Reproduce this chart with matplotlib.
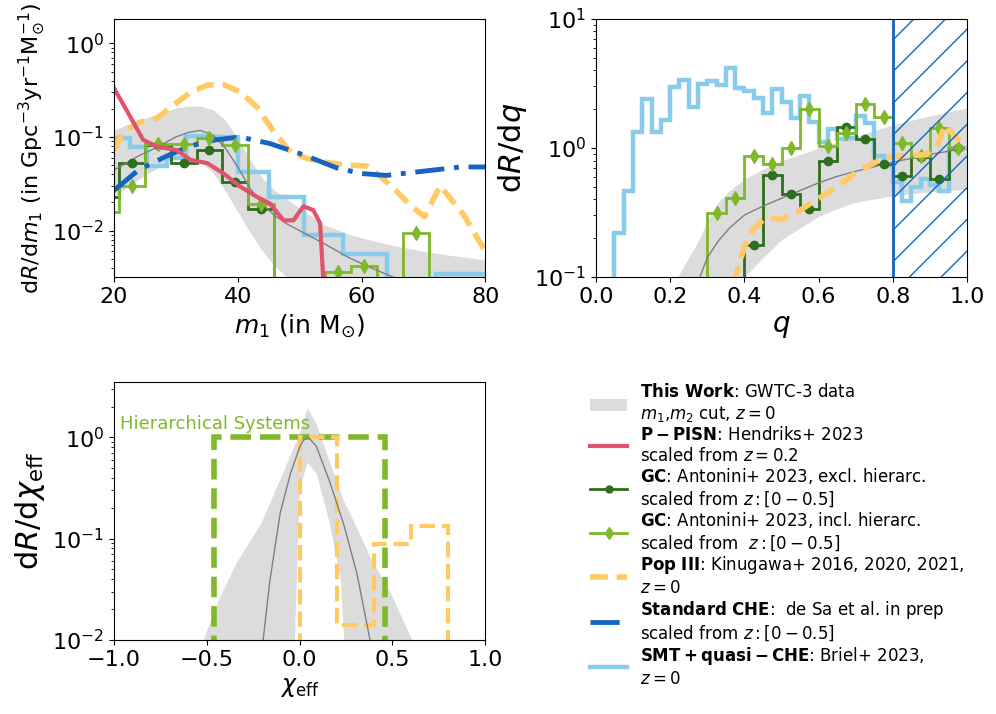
import numpy as np
import matplotlib
matplotlib.use('Agg')
import matplotlib.pyplot as plt
from matplotlib.lines import Line2D
from matplotlib.patches import Patch

# colours
c_band = '#dcdcdc'
c_median = '#808080'
c_pisn = '#e0536a'
c_gc_ex = '#2f6e1d'
c_gc_in = '#7fb82a'
c_pop3 = '#ffc966'
c_che = '#1565c0'
c_smt = '#88cbea'

# ---------------- primary mass panel (values as log10) ----------------
m1_grid = [20, 22, 24, 26, 28, 30, 32, 34, 36, 38, 40, 42, 44, 46, 48, 50, 54, 58, 62, 66, 70, 75, 80]
m1_band_hi_log = [-0.925, -0.87, -0.82, -0.78, -0.74, -0.69, -0.67, -0.67, -0.71, -0.82, -1.02, -1.24,
                  -1.44, -1.57, -1.67, -1.76, -1.94, -2.04, -2.11, -2.17, -2.22, -2.27, -2.31]
m1_band_lo_log = [-1.64, -1.54, -1.45, -1.37, -1.29, -1.23, -1.22, -1.27, -1.38, -1.58, -1.80, -2.02,
                  -2.22, -2.38, -2.5, -2.65, -3, -3, -3, -3, -3, -3, -3]
m1_median_log = [-1.35, -1.28, -1.2, -1.14, -1.07, -1.0, -0.95, -0.93, -0.98, -1.12, -1.32, -1.55,
                 -1.72, -1.84, -1.93, -2.0, -2.14, -2.29, -2.41, -2.52, -2.6, -2.7, -2.8]

m1_pisn = [20, 22, 24.7, 26.9, 30.1, 32.4, 35.1, 37.7, 40.4, 43.1, 45.2, 47.4, 49.0, 50.6, 52.2, 53.3, 53.8, 54.2]
pisn_log = [-0.48, -0.71, -1.03, -1.10, -1.14, -1.245, -1.28, -1.39, -1.53, -1.64, -1.71, -1.89, -1.89,
            -1.74, -1.78, -1.92, -2.5, -3.0]

m1_che = [20, 24, 28.3, 32.1, 36.4, 40.4, 45.2, 50.6, 56, 60, 64, 68, 72, 76, 80]
che_log = [-1.57, -1.35, -1.21, -1.10, -1.03, -1.0, -1.07, -1.19, -1.33, -1.39, -1.41, -1.38, -1.35, -1.32, -1.32]

m1_pop3 = [20, 21.5, 24.2, 26.9, 29.6, 32.4, 35.1, 37.7, 40.4, 43.1, 45.8, 48.5, 51.2, 55, 58, 61,
           64.6, 68.4, 70.2, 72.7, 76.5, 80]
pop3_log = [-1.14, -0.94, -0.84, -0.80, -0.66, -0.52, -0.445, -0.44, -0.52, -0.68, -0.94, -1.16, -1.23,
            -1.28, -1.30, -1.31, -1.51, -1.76, -1.85, -1.52, -1.83, -2.22]

m1_smt_edges = [20, 22.5, 25.3, 28.5, 31.7, 35.7, 40.1, 45.1, 50.7, 57.0, 64.1, 72.1, 81.0]
smt_m1_log = [-1.01, -1.11, -1.31, -1.22, -0.99, -1.0, -1.37, -1.64, -2.05, -2.25, -5, -2.46]

m1_gc_edges = [16.67, 20.83, 25, 29.17, 33.33, 37.5, 41.67, 45.83, 50, 54.17, 58.33, 62.5, 66.67, 70.83, 75]
gc_ex_m1_log = [-1.64, -1.28, -1.085, -1.28, -1.14, -1.48, -1.77, -5, -5, -5, -5, -5, -5, -5]
gc_in_m1_log = [-1.80, -1.52, -1.08, -1.075, -1.01, -1.09, -1.72, -5, -5, -2.44, -2.38, -5, -2.03, -5]

# ---------------- mass ratio panel ----------------
q_grid = [0.22, 0.25, 0.28, 0.30, 0.33, 0.36, 0.40, 0.45, 0.50, 0.55, 0.60, 0.65, 0.70, 0.80, 0.90, 1.0]
q_band_hi_log = [-1.0, -0.85, -0.7, -0.56, -0.42, -0.33, -0.24, -0.165, -0.10, -0.05, 0.0, 0.045,
                 0.09, 0.18, 0.25, 0.31]
q_band_lo_log = [-3, -3, -3, -3, -3, -3, -1.0, -0.85, -0.71, -0.62, -0.53, -0.47, -0.42, -0.37, -0.34, -0.32]
q_median_log = [-3, -3, -1.0, -0.85, -0.72, -0.62, -0.52, -0.45, -0.39, -0.33, -0.27, -0.22,
                -0.18, -0.11, -0.05, 0.0]

q_pop3 = [0.37, 0.40, 0.42, 0.45, 0.47, 0.50, 0.54, 0.59, 0.65, 0.70, 0.75, 0.775, 0.80, 0.85, 0.89,
          0.92, 0.94, 0.97, 1.0]
pop3_q_log = [-1.05, -0.77, -0.64, -0.56, -0.54, -0.555, -0.50, -0.41, -0.30, -0.19, -0.115, -0.08,
              -0.065, -0.06, -0.05, 0.02, 0.18, 0.08, 0.0]

q_smt_edges = [0.025] + [round(0.05 + 0.025 * k, 3) for k in range(39)]
smt_q_log = [-5, -0.656, -0.333, 0.124, 0.377, 0.124, 0.217, 0.476, 0.527, 0.32, 0.494, 0.517, 0.49,
             0.623, 0.468, 0.442, 0.39, 0.274, 0.46, 0.357, 0.235, 0.40, 0.20, 0.045, 0.15, 0.067,
             0.08, 0.248, 0.19, -0.062, -0.14, -0.26, -0.41, -0.30, -0.24, -0.29, -0.33, 0.0, 0.0]

q_gc_edges = [0.25, 0.3, 0.35, 0.4, 0.45, 0.5, 0.55, 0.6, 0.65, 0.7, 0.75, 0.8, 0.85, 0.9, 0.95, 1.0]
gc_ex_q_log = [-5, -5, -5, -0.754, -0.21, -0.359, -0.475, -0.10, 0.16, 0.067, -0.126, -0.217, -0.07,
               -0.243, 0.0]
gc_in_q_log = [-5, -0.5, -0.39, -0.062, -0.126, 0.003, 0.30, 0.016, 0.12, 0.344, 0.24, 0.042, -0.062,
               0.158, 0.003]

q_excluded = (0.8, 1.0)   # hatched region

# ---------------- effective spin panel ----------------
chi_grid = [-0.56, -0.5, -0.43, -0.34, -0.21, -0.09, -0.03, -0.01, 0.0, 0.04, 0.09, 0.16, 0.22, 0.24,
            0.27, 0.38, 0.49, 0.6, 0.63]
chi_band_hi_log = [-2.2, -1.9, -1.57, -1.23, -0.85, -0.34, -0.08, 0.0, 0.04, 0.29, 0.13, -0.24, -0.55,
                   -0.64, -0.75, -1.18, -1.54, -1.98, -2.2]
chi_band_lo_log = [-4, -4, -4, -4, -4, -4, -2.1, -0.9, -0.5, -0.245, -0.36, -0.85, -1.41, -2.1, -4,
                   -4, -4, -4, -4]
chi_med = [-0.2, -0.16, -0.105, -0.05, 0.0, 0.02, 0.047, 0.09, 0.16, 0.236, 0.308, 0.39]
chi_median_log = [-2.05, -1.41, -0.75, -0.36, -0.1, -0.03, 0.0, -0.09, -0.43, -0.85, -1.34, -2.1]

chi_hier_edges = [-0.6, -0.46, 0.46, 0.6]
hier_vals = [1e-5, 1.0, 1e-5]
chi_pop3_edges = [-0.1, 0.0, 0.2, 0.4, 0.6, 0.8, 0.9]
pop3_chi_vals = [1e-5, 1.0, 0.014, 0.0875, 0.133, 1e-5]


def p(v):
  return 10 ** np.asarray(v, dtype=float)


def centers(edges):
  e = np.asarray(edges)
  return 0.5 * (e[1:] + e[:-1])


def sparse_hatch(fig, ax, x0, x1, color, spacing_px=31.7, offset_px=21):
  """diagonal hatch lines between x0 and x1 (data x), drawn in axes coords"""
  fig.canvas.draw()
  bb = ax.get_window_extent()
  w_px, h_px = bb.width, bb.height
  xa0, xa1 = ax.transLimits.transform((x0, 1))[0], ax.transLimits.transform((x1, 1))[0]
  rise = (xa1 - xa0) * w_px / h_px
  step = spacing_px / h_px
  start = 1 - offset_px / h_px
  k = -int(rise / step) - 2
  while start - k * step + rise > -0.01 and k < 200:
    y0 = start - k * step
    ax.plot([xa0, xa1], [y0, y0 + rise], color=color, lw=1, transform=ax.transAxes)
    k += 1


fig = plt.figure(figsize=(9.96, 7.14), dpi=100)
fig.subplots_adjust(left=0.1145, right=0.971, top=0.9734, bottom=0.1036, wspace=0.298, hspace=0.407)
ax1 = fig.add_subplot(221)
ax2 = fig.add_subplot(222)
ax3 = fig.add_subplot(223)
ax4 = fig.add_subplot(224)

tick_fs = 16
pop3_dash = (3.2, 1.6)
che_dash = (6, 2, 1, 2)

# --- m1 ---
ax1.fill_between(m1_grid, p(m1_band_lo_log), p(m1_band_hi_log), color=c_band, lw=0)
ax1.plot(m1_grid, p(m1_median_log), color=c_median, lw=1)
ax1.plot(m1_pop3, p(pop3_log), color=c_pop3, lw=4, dashes=pop3_dash)
ax1.plot(m1_che, p(che_log), color=c_che, lw=3.5, dashes=che_dash)
ax1.stairs(p(smt_m1_log), m1_smt_edges, color=c_smt, lw=3.2, baseline=None)
ax1.stairs(p(gc_ex_m1_log), m1_gc_edges, color=c_gc_ex, lw=2, baseline=None)
ax1.plot(centers(m1_gc_edges), p(gc_ex_m1_log), 'o', color=c_gc_ex, ms=6)
ax1.stairs(p(gc_in_m1_log), m1_gc_edges, color=c_gc_in, lw=2, baseline=None)
ax1.plot(centers(m1_gc_edges), p(gc_in_m1_log), 'd', color=c_gc_in, ms=7)
ax1.plot(m1_pisn, p(pisn_log), color=c_pisn, lw=3)
ax1.set_yscale('log')
ax1.set_xlim(20, 80)
ax1.set_ylim(3.2e-3, 1.82)
ax1.set_xticks([20, 40, 60, 80])
ax1.set_xlabel(r'$m_1$ (in M$_{\odot}$)', fontsize=18)
ax1.set_ylabel(r'd$R$/d$m_1$ (in Gpc$^{-3}$yr$^{-1}$M$_{\odot}^{-1}$)', fontsize=16)

# --- q ---
ax2.fill_between(q_grid, p(q_band_lo_log), p(q_band_hi_log), color=c_band, lw=0)
ax2.plot(q_grid, p(q_median_log), color=c_median, lw=1)
ax2.stairs(p(smt_q_log), q_smt_edges, color=c_smt, lw=3.2, baseline=None)
ax2.stairs(p(gc_ex_q_log), q_gc_edges, color=c_gc_ex, lw=2, baseline=None)
ax2.plot(centers(q_gc_edges), p(gc_ex_q_log), 'o', color=c_gc_ex, ms=6)
ax2.stairs(p(gc_in_q_log), q_gc_edges, color=c_gc_in, lw=2, baseline=None)
ax2.plot(centers(q_gc_edges), p(gc_in_q_log), 'd', color=c_gc_in, ms=7)
ax2.plot(q_pop3, p(pop3_q_log), color=c_pop3, lw=4, dashes=pop3_dash)
ax2.axvline(q_excluded[0], color=c_che, lw=2)
ax2.set_yscale('log')
ax2.set_xlim(0, 1)
ax2.set_ylim(0.1, 10)
ax2.set_xticks([0.0, 0.2, 0.4, 0.6, 0.8, 1.0])
ax2.set_xlabel(r'$q$', fontsize=20)
ax2.set_ylabel(r'd$R$/d$q$', fontsize=22)

# --- chi_eff ---
ax3.fill_between(chi_grid, p(chi_band_lo_log), p(chi_band_hi_log), color=c_band, lw=0)
ax3.plot(chi_med, p(chi_median_log), color=c_median, lw=1)
ax3.stairs(hier_vals, chi_hier_edges, color=c_gc_in, lw=4, ls='--', baseline=None)
ax3.stairs(pop3_chi_vals, chi_pop3_edges, color=c_pop3, lw=3, ls='--', baseline=None)
ax3.text(-0.97, 1.2, 'Hierarchical Systems', color=c_gc_in, fontsize=13)
ax3.set_yscale('log')
ax3.set_xlim(-1, 1)
ax3.set_ylim(0.01, 3.5)
ax3.set_xticks([-1.0, -0.5, 0.0, 0.5, 1.0])
ax3.set_xlabel(r'$\chi_{\rm eff}$', fontsize=17)
ax3.set_ylabel(r'd$R$/d$\chi_{\rm eff}$', fontsize=22)

for ax in (ax1, ax2, ax3):
  ax.tick_params(labelsize=tick_fs)

sparse_hatch(fig, ax2, q_excluded[0], q_excluded[1], c_che)

# --- legend ---
ax4.axis('off')
handles = [
  Patch(color=c_band, lw=0),
  Line2D([], [], color=c_pisn, lw=3),
  Line2D([], [], color=c_gc_ex, lw=2, marker='o', ms=5),
  Line2D([], [], color=c_gc_in, lw=2, marker='d', ms=6),
  Line2D([], [], color=c_pop3, lw=4, dashes=pop3_dash),
  Line2D([], [], color=c_che, lw=3.5, dashes=che_dash),
  Line2D([], [], color=c_smt, lw=3.2),
]
labels = [
  r'$\bf{This\ Work}$: GWTC-3 data' + '\n' + r'$m_1$,$m_2$ cut, $z=0$',
  r'$\bf{P-PISN}$: Hendriks+ 2023' + '\n' + r'scaled from $z=0.2$',
  r'$\bf{GC}$: Antonini+ 2023, excl. hierarc.' + '\n' + r'scaled from $z: [0-0.5]$',
  r'$\bf{GC}$: Antonini+ 2023, incl. hierarc.' + '\n' + r'scaled from  $z: [0-0.5]$',
  r'$\bf{Pop\ III}$: Kinugawa+ 2016, 2020, 2021,' + '\n' + r'$z=0$',
  r'$\bf{Standard\ CHE}$:  de Sa et al. in prep' + '\n' + r'scaled from $z: [0-0.5]$',
  r'$\bf{SMT+quasi-CHE}$: Briel+ 2023,' + '\n' + r'$z=0$',
]
ax4.legend(handles, labels, loc='upper left', bbox_to_anchor=(0.5775, 0.484),
           bbox_transform=fig.transFigure, frameon=False, fontsize=12,
           handlelength=2.2, labelspacing=0.09)

fig.savefig('out.png', dpi=100)
